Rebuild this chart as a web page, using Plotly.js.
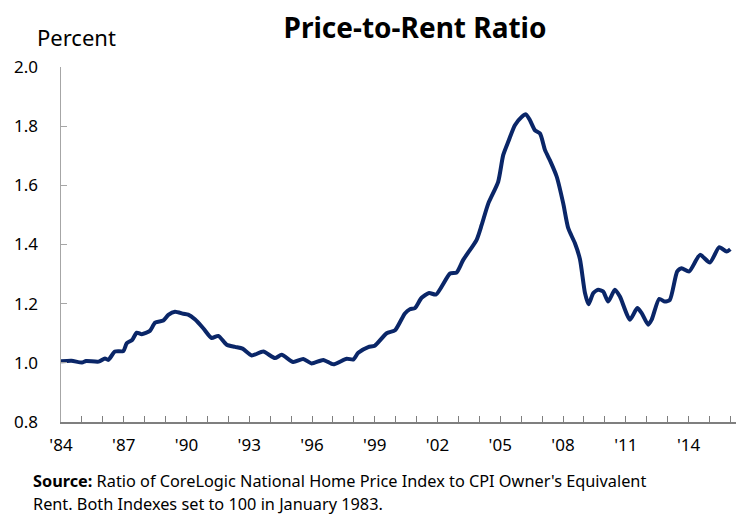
<!DOCTYPE html>
<html>
<head>
<meta charset="utf-8">
<script src="https://cdn.plot.ly/plotly-3.0.1.min.js"></script>
<style>html,body{margin:0;padding:0;background:#fff;}#chart{width:739px;height:514px;}</style>
</head>
<body>
<div id="chart"></div>
<script>
// Time in decimal years
var years = [1984.0,1984.5,1985.0,1985.2,1985.8,1986.1,1986.26,1986.58,1986.98,1987.14,1987.4,1987.62,1987.86,1988.25,1988.5,1988.89,1989.13,1989.45,1989.85,1990.08,1990.4,1990.8,1991.2,1991.52,1991.92,1992.32,1992.68,1993.12,1993.67,1994.23,1994.55,1995.1,1995.58,1995.98,1996.54,1997.02,1997.66,1997.97,1998.21,1998.69,1999.0,1999.57,1999.97,2000.44,2000.68,2000.92,2001.24,2001.6,2001.93,2002.6,2002.91,2003.23,2003.87,2004.11,2004.43,2004.9,2005.14,2005.38,2005.7,2006.02,2006.23,2006.42,2006.66,2006.9,2007.14,2007.37,2007.7,2008.01,2008.25,2008.57,2008.81,2009.05,2009.22,2009.45,2009.68,2009.92,2010.16,2010.48,2010.72,2011.2,2011.55,2011.76,2012.07,2012.24,2012.6,2012.87,2013.11,2013.46,2013.67,2014.03,2014.55,2015.02,2015.47,2015.82,2016.0];
// Price-to-rent ratio
var ratio = [1.005,1.007,1.001,1.006,1.004,1.015,1.010,1.038,1.040,1.066,1.077,1.102,1.097,1.108,1.136,1.143,1.162,1.173,1.166,1.163,1.147,1.117,1.084,1.091,1.061,1.054,1.048,1.025,1.038,1.016,1.027,1.003,1.013,0.998,1.010,0.995,1.014,1.011,1.034,1.053,1.058,1.100,1.110,1.167,1.181,1.185,1.220,1.236,1.231,1.302,1.305,1.348,1.416,1.466,1.539,1.612,1.702,1.747,1.803,1.831,1.840,1.820,1.786,1.775,1.719,1.685,1.629,1.539,1.455,1.404,1.350,1.236,1.198,1.236,1.247,1.241,1.207,1.247,1.224,1.146,1.185,1.168,1.129,1.146,1.216,1.207,1.213,1.309,1.320,1.309,1.365,1.339,1.391,1.376,1.384];
// Axis ticks
var tickYears = [];
for (var y = 1984; y <= 2016; y++) tickYears.push(y);
var labelYears = [1984,1987,1990,1993,1996,1999,2002,2005,2008,2011,2014];
var tickText = tickYears.map(function(y){ return labelYears.indexOf(y) >= 0 ? "'" + String(y).slice(2) : ""; });
var yTicks = [0.8,1.0,1.2,1.4,1.6,1.8,2.0];

var font = "Noto Sans, Open Sans, sans-serif";

var trace = {
  x: years, y: ratio, type: 'scatter', mode: 'lines',
  line: {color: '#0a2668', width: 4, shape: 'spline', smoothing: 0.6},
  hoverinfo: 'x+y'
};

var layout = {
  width: 739, height: 514,
  margin: {l: 61, r: 3, t: 67, b: 91.5, pad: 0},
  paper_bgcolor: '#ffffff', plot_bgcolor: '#ffffff',
  showlegend: false,
  font: {family: font, size: 17, color: '#000000'},
  title: {text: '<b>Price-to-Rent Ratio</b>', font: {family: font, size: 28, color: '#000'},
          x: 415/739, xanchor: 'center', xref: 'container', y: 1 - 28/514, yanchor: 'middle', yref: 'container'},
  xaxis: {
    range: [1984, 2016.27], tickmode: 'array', tickvals: tickYears, ticktext: tickText,
    ticks: 'inside', ticklen: 6, tickcolor: '#7f7f7f', tickwidth: 1,
    showline: true, linecolor: '#7f7f7f', linewidth: 1.5,
    showgrid: false, zeroline: false, ticklabelstandoff: 7,
    tickfont: {family: font, size: 17, color: '#000'}
  },
  yaxis: {
    range: [0.8, 2.0], tickmode: 'array', tickvals: yTicks, tickformat: '.1f',
    ticks: 'inside', ticklen: 6, tickcolor: '#a6a6a6', tickwidth: 1,
    showline: true, linecolor: '#a6a6a6', linewidth: 1.5,
    showgrid: false, zeroline: false, ticklabelstandoff: 18,
    tickfont: {family: font, size: 17, color: '#000'}
  },
  annotations: [
    {text: 'Percent', xref: 'paper', yref: 'paper', x: (35-61)/675, y: (422.5-37)/355.5,
     xanchor: 'left', yanchor: 'middle', showarrow: false, font: {family: font, size: 22, color: '#000'}},
    {text: '<b>Source:</b> Ratio of CoreLogic National Home Price Index to CPI Owner\'s Equivalent', xref: 'paper', yref: 'paper',
     x: (31-61)/675, y: (422.5-482)/355.5, xanchor: 'left', yanchor: 'middle', showarrow: false,
     font: {family: font, size: 16.3, color: '#000'}},
    {text: 'Rent. Both Indexes set to 100 in January 1983.', xref: 'paper', yref: 'paper',
     x: (31-61)/675, y: (422.5-505)/355.5, xanchor: 'left', yanchor: 'middle', showarrow: false,
     font: {family: font, size: 16.3, color: '#000'}}
  ]
};

Plotly.newPlot('chart', [trace], layout, {displayModeBar: false, staticPlot: true});
</script>
</body>
</html>
